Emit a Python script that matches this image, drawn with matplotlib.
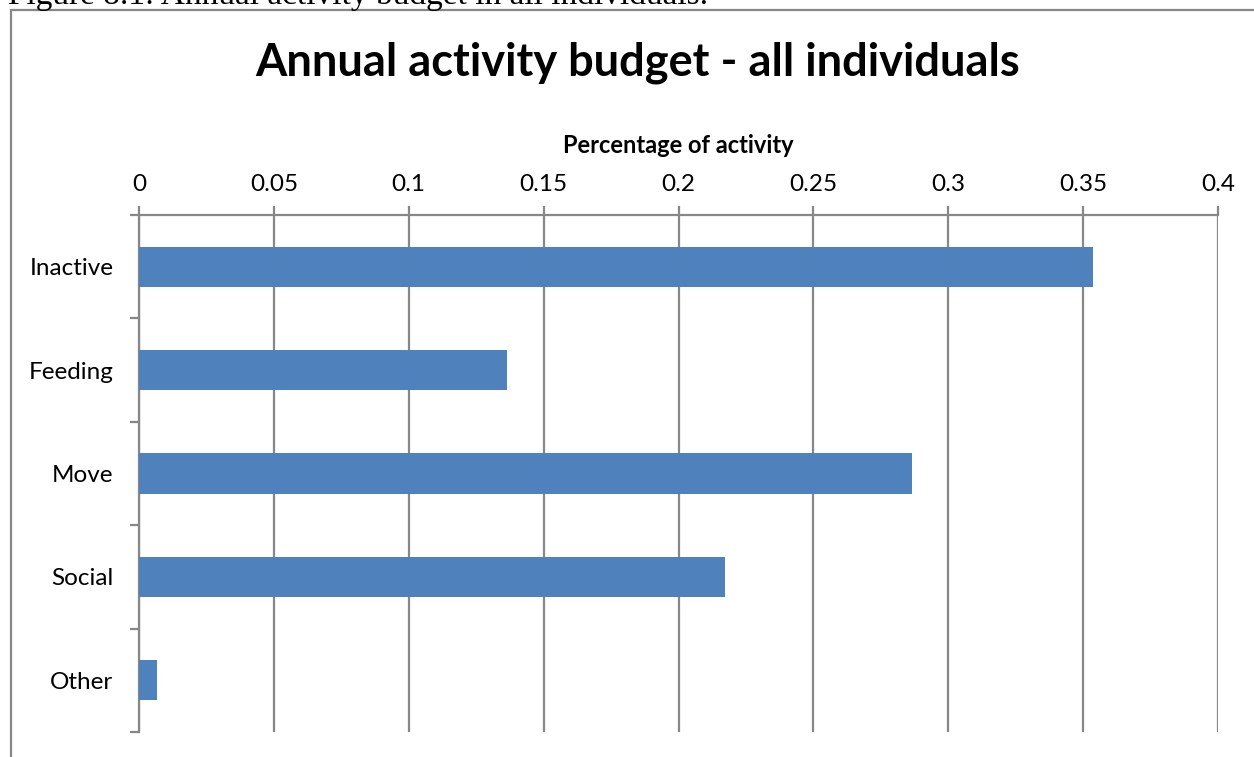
import matplotlib
matplotlib.use("Agg")
import matplotlib.pyplot as plt
from matplotlib.patches import Rectangle
import numpy as np

# Activity budget data
categories = ["Inactive", "Feeding", "Move", "Social", "Other"]
proportions = [0.3537, 0.1364, 0.2866, 0.2172, 0.0067]
x_ticks = [0, 0.05, 0.1, 0.15, 0.2, 0.25, 0.3, 0.35, 0.4]
x_tick_labels = ["0", "0.05", "0.1", "0.15", "0.2", "0.25", "0.3", "0.35", "0.4"]

W, H = 1254, 757
fig = plt.figure(figsize=(W / 100, H / 100), dpi=100)
fig.patch.set_facecolor("white")

grey = "#878787"
font = ["Lato", "DejaVu Sans"]

# Document caption above the chart frame
fig.text(8 / W, 1 - 4 / H, "Figure 8.1: Annual activity budget in all individuals.",
         family=["Liberation Serif"], fontsize=24, va="baseline", ha="left", color="black")

# Chart frame
fig.patches.append(Rectangle((11 / W, -0.05), 1.2, (1 - 10 / H) + 0.05,
                             transform=fig.transFigure, fill=False,
                             edgecolor=grey, linewidth=1.6, zorder=0))

ax = fig.add_axes([139 / W, 1 - 732 / H, (1218 - 139) / W, (732 - 215) / H])

y = np.arange(len(categories))
ax.barh(y, proportions, height=0.39, color="#4F81BD", zorder=3)

ax.set_xlim(0, 0.4)
ax.set_ylim(len(categories) - 0.5, -0.5)

# Value axis along the top
ax.xaxis.tick_top()
ax.xaxis.set_label_position("top")
ax.set_xticks(x_ticks)
ax.set_xticklabels(x_tick_labels, fontsize=17.5, family=font)
ax.tick_params(axis="x", direction="out", length=6.5, width=1.6, color=grey, pad=8)
ax.set_xlabel("Percentage of activity", fontsize=17, fontweight="bold", family=font, labelpad=15)
ax.grid(axis="x", color=grey, linewidth=1.6, zorder=1)

# Category axis: ticks at boundaries, labels at centres
ax.set_yticks(np.arange(len(categories) + 1) - 0.5)
ax.set_yticklabels([""] * (len(categories) + 1))
ax.tick_params(axis="y", which="major", direction="out", length=6.5, width=1.6, color=grey)
ax.set_yticks(y, minor=True)
ax.set_yticklabels(categories, minor=True, fontsize=17.5, family=font)
ax.tick_params(axis="y", which="minor", length=0, pad=18.5)

for side in ("right", "bottom"):
    ax.spines[side].set_visible(False)
for side in ("left", "top"):
    ax.spines[side].set_color(grey)
    ax.spines[side].set_linewidth(1.6)

fig.text(638 / W, 1 - 63 / H, "Annual activity budget - all individuals",
         ha="center", va="center", fontsize=32.5, fontweight="bold", family=font)

fig.savefig("out.png", dpi=100, facecolor="white")
